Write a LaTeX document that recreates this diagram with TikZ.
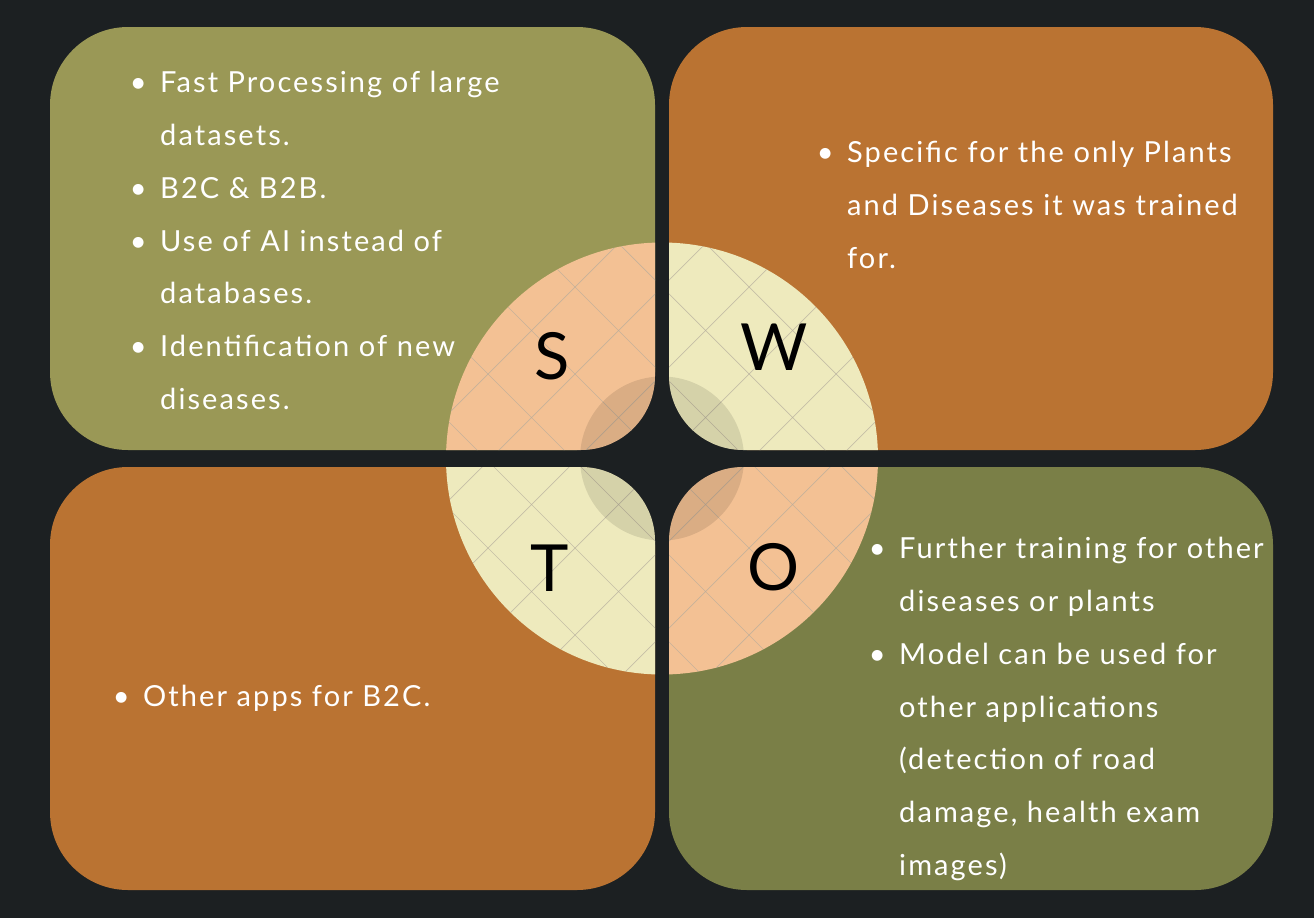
\documentclass[tikz,border=0pt]{standalone}
\usepackage{fontspec}
\setmainfont{Lato}
\newfontfamily\listfont[LetterSpace=7.2]{Lato}
\definecolor{bg}{HTML}{1C2022}
\definecolor{oliveA}{HTML}{9A9856}
\definecolor{oliveB}{HTML}{7A7F47}
\definecolor{rust}{HTML}{BA7332}
\definecolor{peach}{HTML}{F3C194}
\definecolor{cream}{HTML}{EEEABD}
\definecolor{gridline}{HTML}{B4AC9C}
% bullet centred 22pt left of the text start
\newcommand\bul{\llap{\makebox[0pt][c]{\textbullet}\hspace{22pt}}}
\begin{document}
\begin{tikzpicture}[x=1pt,y=-1pt,
  quad/.style={rounded corners=78pt},
  % anchored at the baseline of the last line
  listtext/.style={text=white, anchor=base west, inner sep=0pt, align=left,
    font=\listfont\fontsize{29}{52.8}\selectfont},
  letter/.style={text=black, inner sep=0pt, font=\fontsize{65}{65}\selectfont},
  gridstroke/.style={draw=gridline, line width=0.7pt, opacity=0.7}]

% canvas
\fill[bg] (0,0) rectangle (1314,918);
\useasboundingbox (0,0) rectangle (1314,918);

% four quadrant panels
\fill[oliveA, quad] (50,27)  rectangle (655,450);
\fill[rust,   quad] (669,27) rectangle (1273,450);
\fill[rust,   quad] (50,467) rectangle (655,890);
\fill[oliveB, quad] (669,467) rectangle (1273,890);

\coordinate (C) at (662,458.5);

% central disc split into four rounded pieces
\begin{scope}
  \clip (C) circle (216pt);
  \clip[rounded corners=74pt]
       (300,100) rectangle (655,450)
       (669,100) rectangle (1020,450)
       (300,467) rectangle (655,820)
       (669,467) rectangle (1020,820);
  \fill[peach] (300,100) rectangle (662,458.5);
  \fill[cream] (662,100) rectangle (1020,458.5);
  \fill[cream] (300,458.5) rectangle (662,820);
  \fill[peach] (662,458.5) rectangle (1020,820);
  % diagonal lattice
  \foreach \k in {-7,...,5} {
    \pgfmathsetmacro\c{288+87*\k}
    \draw[gridstroke] (\c+200,200) -- (\c+720,720);
  }
  \foreach \k in {-4,...,9} {
    \pgfmathsetmacro\d{862+87*\k}
    \draw[gridstroke] (\d-200,200) -- (\d-720,720);
  }
  % shaded hub
  \fill[black, opacity=0.1] (C) circle (82pt);
\end{scope}

% quadrant letters
\node[letter] (S) at (552,356) {S};
\node[letter] (W) at (774,347) {W};
\node[letter] (T) at (550,568) {T};
\node[letter] (O) at (774,567) {O};

% panel texts
\node[listtext] (strengths) at (160,409.5) {%
  \bul Fast Processing of large\\
  datasets.\\
  \bul B2C \& B2B.\\
  \bul Use of AI instead of\\
  databases.\\
  \bul Identification of new\\
  diseases.};

\node[listtext] (weaknesses) at (847,268.5) {%
  \bul Specific for the only Plants\\
  and Diseases it was trained\\
  for.};

\node[listtext] (threats) at (143,706) {%
  \bul Other apps for B2C.};

\node[listtext] (opportunities) at (899,875.5) {%
  \bul Further training for other\\
  diseases or plants\\
  \bul Model can be used for\\
  other applications\\
  (detection of road\\
  damage, health exam\\
  images)};
\end{tikzpicture}
\end{document}
